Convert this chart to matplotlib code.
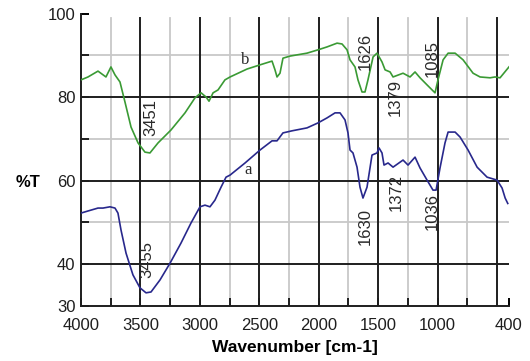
import matplotlib
matplotlib.use("Agg")
import matplotlib.pyplot as plt
import numpy as np

# Curve b (green)
wn_b = [4000, 3941, 3857, 3790, 3748, 3714, 3672, 3630, 3579, 3520, 3462, 3420, 3352, 3243,
        3125, 3041, 2990, 2948, 2923, 2889, 2847, 2789, 2746, 2603, 2494, 2393, 2368, 2351,
        2326, 2301, 2242, 2099, 2006, 1930, 1846, 1804, 1762, 1737, 1695, 1670, 1636, 1611,
        1586, 1543, 1510, 1468, 1442, 1400, 1375, 1291, 1232, 1190, 1148, 1089, 1022, 997,
        954, 912, 853, 786, 702, 643, 559, 517, 475, 400]
t_b = [84.1, 84.8, 86.2, 84.8, 87.2, 85.3, 83.6, 78.8, 72.8, 69.0, 66.8, 66.6, 69.0, 72.1,
       76.2, 79.8, 81.0, 80.0, 79.0, 81.0, 81.7, 84.1, 84.8, 86.7, 87.7, 88.6, 86.5, 84.8,
       85.7, 89.3, 89.8, 90.5, 91.3, 92.0, 92.9, 92.7, 91.3, 88.9, 87.2, 84.1, 81.2, 81.2,
       84.1, 89.6, 90.5, 88.4, 86.5, 86.0, 84.8, 85.7, 84.8, 86.0, 84.6, 82.9, 81.0, 84.1,
       88.9, 90.5, 90.5, 88.9, 85.7, 84.8, 84.6, 84.8, 84.6, 87.2]

# Curve a (navy)
wn_a = [4000, 3941, 3857, 3815, 3756, 3714, 3689, 3663, 3621, 3563, 3504, 3453, 3411, 3335,
        3251, 3159, 3075, 2999, 2957, 2915, 2873, 2822, 2780, 2746, 2620, 2494, 2393, 2351,
        2301, 2225, 2099, 2006, 1930, 1863, 1821, 1779, 1754, 1737, 1712, 1678, 1653, 1628,
        1594, 1552, 1510, 1493, 1468, 1451, 1417, 1375, 1291, 1249, 1190, 1148, 1089, 1039,
        1013, 980, 938, 912, 853, 811, 744, 668, 584, 500, 458, 432, 410]
t_a = [52.2, 52.7, 53.4, 53.4, 53.7, 53.4, 52.2, 48.1, 42.6, 37.4, 34.3, 33.1, 33.3, 36.2,
       40.2, 45.0, 49.8, 53.7, 54.1, 53.7, 55.3, 58.4, 60.8, 61.3, 64.2, 67.3, 69.5, 69.5,
       71.4, 71.9, 72.6, 73.8, 75.0, 76.2, 76.2, 74.5, 71.4, 67.3, 66.6, 63.2, 58.4, 55.8,
       58.4, 66.1, 66.6, 67.8, 66.6, 63.7, 64.2, 63.2, 64.9, 63.7, 65.6, 63.0, 60.1, 57.7,
       57.7, 63.0, 69.0, 71.6, 71.6, 70.4, 67.3, 63.2, 60.8, 60.1, 58.2, 55.8, 54.5]

# Peak annotations: (text, wavenumber, %T)
peak_labels = ["3451", "3455", "1626", "1379", "1085", "1630", "1372", "1036"]
peak_wn = [3411, 3445, 1611, 1358, 1047, 1611, 1350, 1047]
peak_t = [75.0, 41.1, 90.8, 80.0, 89.3, 48.9, 57.2, 52.5]

x_ticks = [4000, 3500, 3000, 2500, 2000, 1500, 1000, 400]
x_ticklabels = ["4000", "3500", "3000", "2500", "2000", "1500", "1000", "400"]
y_ticks = [30, 40, 60, 80, 100]
y_ticklabels = ["30", "40", "60", "80", "100"]

plt.rcParams['font.family'] = ['Liberation Sans', 'DejaVu Sans']
plt.rcParams['lines.solid_joinstyle'] = 'round'

fig = plt.figure(figsize=(5.3, 3.61), dpi=100)
ax = fig.add_axes([0.1528, 0.153, 0.8075, 0.8096])
ax.set_xlim(4000, 400)
ax.set_ylim(30, 100)

# grid lines
for v in [3750, 3250, 2750, 2250, 1750, 1250, 750]:
    ax.axvline(v, color='#c8c8c8', lw=1.3, zorder=1, ymax=0.985)
for v in [3500, 3000, 2500, 2000, 1500, 1000, 500]:
    ax.axvline(v, color='#1e1e1e', lw=1.4, zorder=2, ymax=0.985)
for h in [90, 70, 50]:
    ax.axhline(h, color='#c8c8c8', lw=1.3, zorder=1)
for h in [80, 60, 40]:
    ax.axhline(h, color='#1e1e1e', lw=1.4, zorder=2)

ax.plot(wn_b, t_b, color='#3a9a34', lw=1.2, zorder=3)
ax.plot(wn_a, t_a, color='#28288c', lw=1.2, zorder=3)

for lab, w, t in zip(peak_labels, peak_wn, peak_t):
    ax.text(w, t, lab, rotation=90, ha='center', va='center', fontsize=12,
            color='#2a2a2a', zorder=4)

ax.text(2620, 88.9, "b", fontsize=12, family='Liberation Serif', ha='center', va='center',
        color='#2a2a2a')
ax.text(2595, 62.5, "a", fontsize=12, family='Liberation Serif', ha='center', va='center',
        color='#2a2a2a')

ax.set_xticks(x_ticks)
ax.set_xticklabels(x_ticklabels, fontsize=12, color='#1e1e1e')
ax.set_yticks(y_ticks)
ax.set_yticklabels(y_ticklabels, fontsize=12, color='#1e1e1e')
ax.set_xticks([3750, 3250, 2750, 2250, 1750, 1250, 750], minor=True)
ax.set_yticks([90, 70, 50], minor=True)
ax.tick_params(axis='both', which='major', direction='in', length=6, width=1.4, pad=4)
ax.tick_params(axis='x', which='major', pad=9)
ax.tick_params(axis='both', which='minor', direction='in', length=6, width=1.2)

for s in ['top', 'right']:
    ax.spines[s].set_visible(False)
for s in ['left', 'bottom']:
    ax.spines[s].set_color('#1e1e1e')
    ax.spines[s].set_linewidth(1.4)

ax.set_xlabel("Wavenumber [cm-1]", fontsize=12.5, fontweight='bold', labelpad=5)
fig.text(0.053, 0.495, "%T", fontsize=12, fontweight='bold', ha='center', va='center')

fig.savefig("out.png", dpi=100)
